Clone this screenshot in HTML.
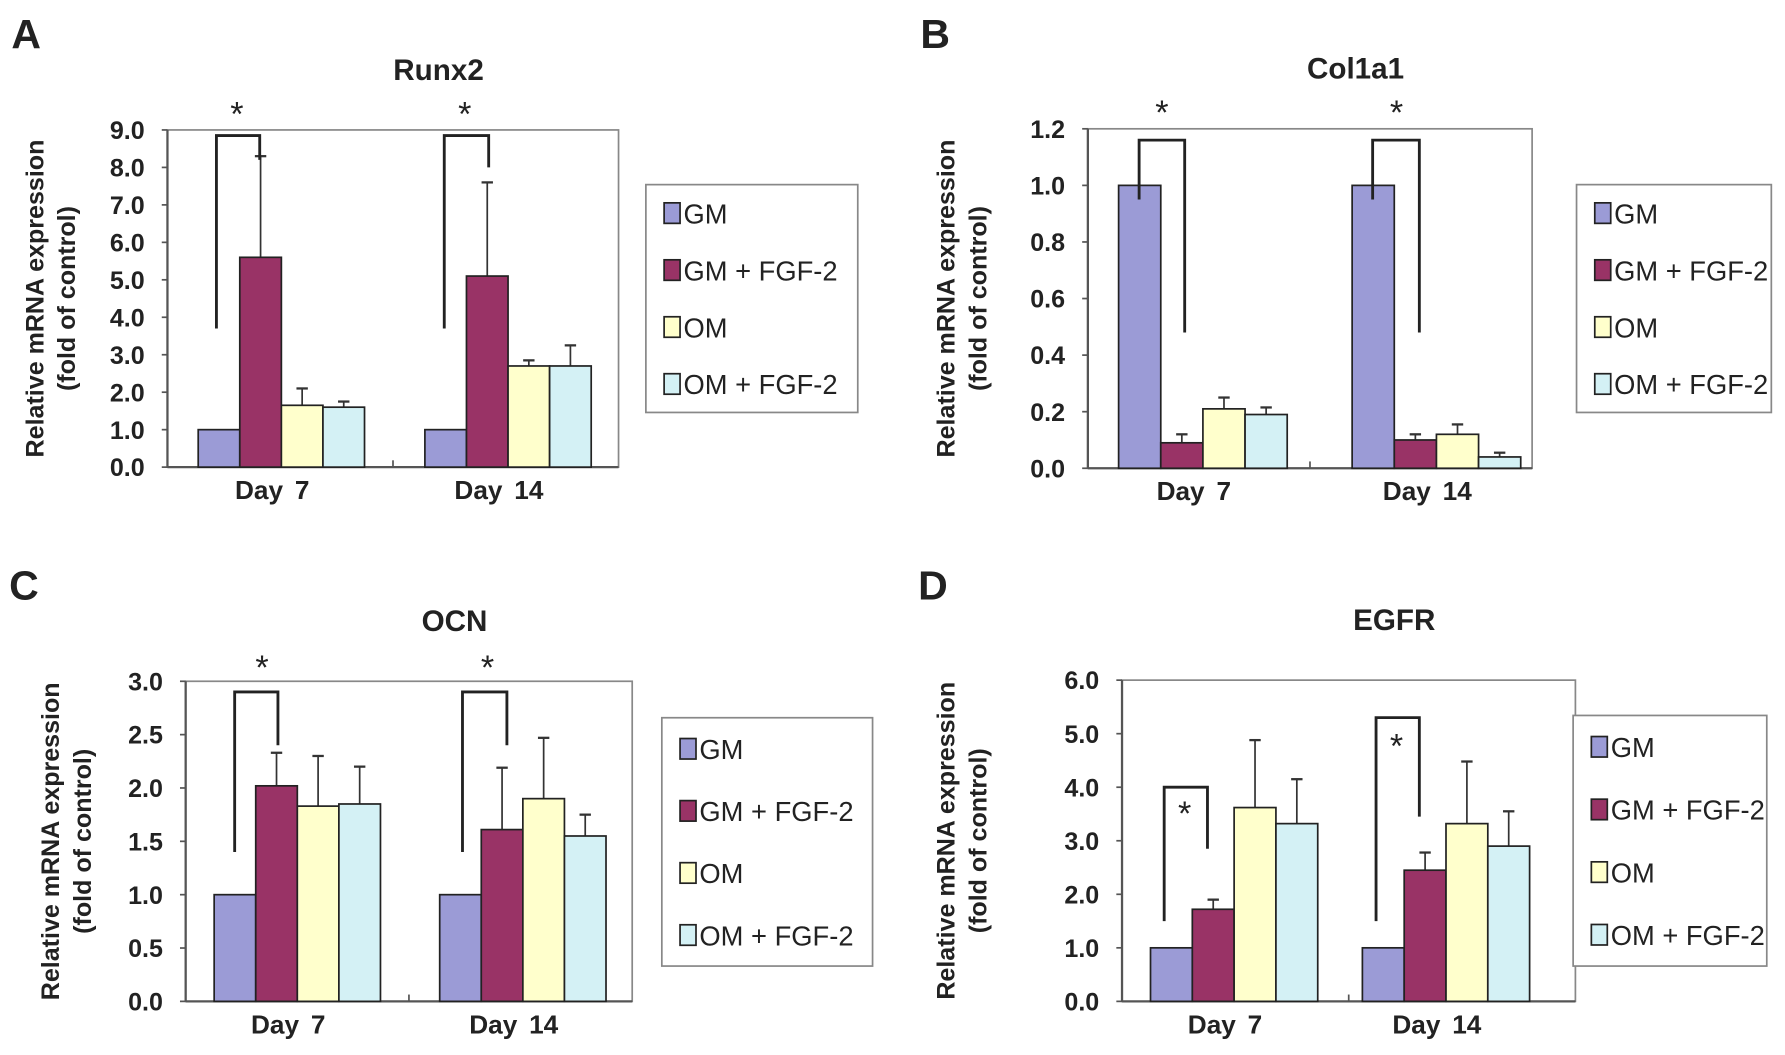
<!DOCTYPE html>
<html><head><meta charset="utf-8"><style>
html,body{margin:0;padding:0;background:#fff}
svg{display:block}
text{font-family:"Liberation Sans",sans-serif;fill:#222}
</style></head><body>
<svg id="fig" width="1785" height="1055" viewBox="0 0 1567 926" xmlns="http://www.w3.org/2000/svg"></svg>
<script>
const categories = ["Day 7", "Day 14"];
const seriesNames = ["GM", "GM + FGF-2", "OM", "OM + FGF-2"];
const colors = ["#9b9bd6", "#993366", "#ffffcc", "#d4f1f5"];
// Runx2
const runx2Values = [[1.0, 5.6, 1.65, 1.6], [1.0, 5.1, 2.7, 2.7]];
const runx2Err = [[null, 8.3, 2.1, 1.75], [null, 7.6, 2.85, 3.25]];
const runx2Ticks = ["0.0","1.0","2.0","3.0","4.0","5.0","6.0","7.0","8.0","9.0"];
// Col1a1
const col1a1Values = [[1.0, 0.09, 0.21, 0.19], [1.0, 0.10, 0.12, 0.04]];
const col1a1Err = [[null, 0.12, 0.25, 0.215], [null, 0.12, 0.155, 0.055]];
const col1a1Ticks = ["0.0","0.2","0.4","0.6","0.8","1.0","1.2"];
// OCN
const ocnValues = [[1.0, 2.02, 1.83, 1.85], [1.0, 1.61, 1.9, 1.55]];
const ocnErr = [[null, 2.33, 2.3, 2.2], [null, 2.19, 2.47, 1.75]];
const ocnTicks = ["0.0","0.5","1.0","1.5","2.0","2.5","3.0"];
// EGFR
const egfrValues = [[1.0, 1.72, 3.62, 3.32], [1.0, 2.45, 3.32, 2.9]];
const egfrErr = [[null, 1.9, 4.88, 4.15], [null, 2.78, 4.48, 3.55]];
const egfrTicks = ["0.0","1.0","2.0","3.0","4.0","5.0","6.0"];

const NS = "http://www.w3.org/2000/svg";
const svg = document.getElementById("fig");
function mk(tag, attrs, parent, txt) {
  const e = document.createElementNS(NS, tag);
  for (const k in attrs) e.setAttribute(k, attrs[k]);
  if (txt !== undefined) e.textContent = txt;
  (parent || svg).appendChild(e);
  return e;
}

const panels = [
  {id:"a", letter:"A", lx:10, ly:42, title:"Runx2", x0:147, x1:543, y0:114, y1:410, max:9,
   vals:runx2Values, err:runx2Err, ticks:runx2Ticks, groupStart:[174,373], bw:36.5,
   brackets:[{l:190,r:228,from:3.7,top:8.85,to:8.2,star:[208,110]},{l:390,r:429,from:3.7,top:8.85,to:8.0,star:[408,110]}],
   leg:{x:567,y:162,w:186,h:200}, ytx:38, ytx2:66},
  {id:"b", letter:"B", lx:808, ly:42, title:"Col1a1", x0:955, x1:1345, y0:113, y1:411, max:1.2,
   vals:col1a1Values, err:col1a1Err, ticks:col1a1Ticks, groupStart:[982,1187], bw:37,
   brackets:[{l:1000,r:1040,from:0.95,top:1.16,to:0.48,star:[1020,109]},{l:1205,r:1246,from:0.95,top:1.16,to:0.48,star:[1226,109]}],
   leg:{x:1384,y:162,w:171,h:200}, ytx:838, ytx2:866},
  {id:"c", letter:"C", lx:8, ly:526, title:"OCN", x0:163, x1:555, y0:598, y1:879, max:3,
   vals:ocnValues, err:ocnErr, ticks:ocnTicks, groupStart:[188,386], bw:36.5,
   brackets:[{l:206,r:244,from:1.4,top:2.9,to:2.4,star:[230,596]},{l:406,r:445,from:1.4,top:2.9,to:2.4,star:[428,596]}],
   leg:{x:581,y:630,w:185,h:218}, ytx:52, ytx2:80},
  {id:"d", letter:"D", lx:806, ly:526, title:"EGFR", x0:985, x1:1383, y0:597, y1:879, max:6,
   vals:egfrValues, err:egfrErr, ticks:egfrTicks, groupStart:[1010,1196], bw:36.7,
   brackets:[{l:1022,r:1060,from:1.5,top:4.0,to:2.85,star:[1040,724]},{l:1208,r:1246,from:1.5,top:5.3,to:3.45,star:[1226,665]}],
   leg:{x:1381,y:628,w:170,h:220}, ytx:838, ytx2:866}
];

panels.forEach(p => {
  const g = mk("g", {});
  
  
  const yS = v => p.y1 - (v / p.max) * (p.y1 - p.y0);
  const L = mk("text", {x:p.lx, y:p.ly, "font-size":36, "font-weight":"bold"}, g, p.letter);
  
  
  const T = mk("text", {x:(p.x0+p.x1)/2 + 40, y:p.y0-44, "font-size":26, "font-weight":"bold", "text-anchor":"middle"}, g, p.title);
  
  
  const fr = mk("rect", {x:p.x0, y:p.y0, width:p.x1-p.x0, height:p.y1-p.y0, fill:"none", stroke:"#888", "stroke-width":1.5}, g);
  
  
  mk("line", {x1:p.x0, y1:p.y1, x2:p.x1, y2:p.y1, stroke:"#555", "stroke-width":2}, g);
  mk("line", {x1:p.x0, y1:p.y0, x2:p.x0, y2:p.y1, stroke:"#555", "stroke-width":2}, g);
  mk("line", {x1:(p.x0+p.x1)/2, y1:p.y1, x2:(p.x0+p.x1)/2, y2:p.y1-6, stroke:"#555", "stroke-width":1.5}, g);
  p.ticks.forEach((t, i) => {
    const v = i * p.max / (p.ticks.length - 1);
    const y = yS(v);
    mk("line", {x1:p.x0-5, y1:y, x2:p.x0, y2:y, stroke:"#555", "stroke-width":1.5}, g);
    const tl = mk("text", {x:p.x0-20, y:y+8, "font-size":22, "font-weight":"bold", "text-anchor":"end"}, g, t);
    
    
  });
  const cy = (p.y0 + p.y1) / 2;
  const yt1 = mk("text", {x:p.ytx, y:cy, "font-size":22, "font-weight":"bold", "text-anchor":"middle", transform:`rotate(-90 ${p.ytx} ${cy})`}, g, "Relative mRNA expression");
  
  
  const yt2 = mk("text", {x:p.ytx2, y:cy, "font-size":22, "font-weight":"bold", "text-anchor":"middle", transform:`rotate(-90 ${p.ytx2} ${cy})`}, g, "(fold of control)");
  
  
  categories.forEach((c, gi) => {
    const gs = p.groupStart[gi];
    p.vals[gi].forEach((v, si) => {
      const x = gs + si * p.bw;
      const e = p.err[gi][si];
      if (e !== null) {
        const ex = x + p.bw / 2;
        const el = mk("line", {x1:ex, y1:yS(v), x2:ex, y2:yS(e), stroke:"#333", "stroke-width":1.5}, g);
        
        
        mk("line", {x1:ex-5, y1:yS(e), x2:ex+5, y2:yS(e), stroke:"#333", "stroke-width":2}, g);
      }
      const b = mk("rect", {x:x, y:yS(v), width:p.bw, height:p.y1-yS(v), fill:colors[si], stroke:"#222", "stroke-width":1.5}, g);
      
      
    });
    const xl = mk("text", {x:gs + 2 * p.bw - 8, y:p.y1+28, "font-size":23, "font-weight":"bold", "text-anchor":"middle", "word-spacing":"4"}, g, c);
    
    
  });
  p.brackets.forEach(br => {
    const pl = mk("polyline", {points:`${br.l},${yS(br.from)} ${br.l},${yS(br.top)} ${br.r},${yS(br.top)} ${br.r},${yS(br.to)}`, fill:"none", stroke:"#222", "stroke-width":2.5}, g);
    
    
    const st = mk("text", {x:br.star[0], y:br.star[1], "font-size":30, "text-anchor":"middle"}, g, "*");
    
    
  });
  const lg = mk("g", {}, g);
  
  
  mk("rect", {x:p.leg.x, y:p.leg.y, width:p.leg.w, height:p.leg.h, fill:"#fff", stroke:"#888", "stroke-width":1.5}, lg);
  const step = p.leg.h / 4;
  seriesNames.forEach((n, i) => {
    const y = p.leg.y + step * (i + 0.5);
    const ent = mk("g", {}, lg);
    
    
    mk("rect", {x:p.leg.x+16, y:y-9, width:14, height:18, fill:colors[i], stroke:"#222", "stroke-width":1.5}, ent);
    mk("text", {x:p.leg.x+33, y:y+9, "font-size":24}, ent, n);
  });
});
</script>
</body></html>
